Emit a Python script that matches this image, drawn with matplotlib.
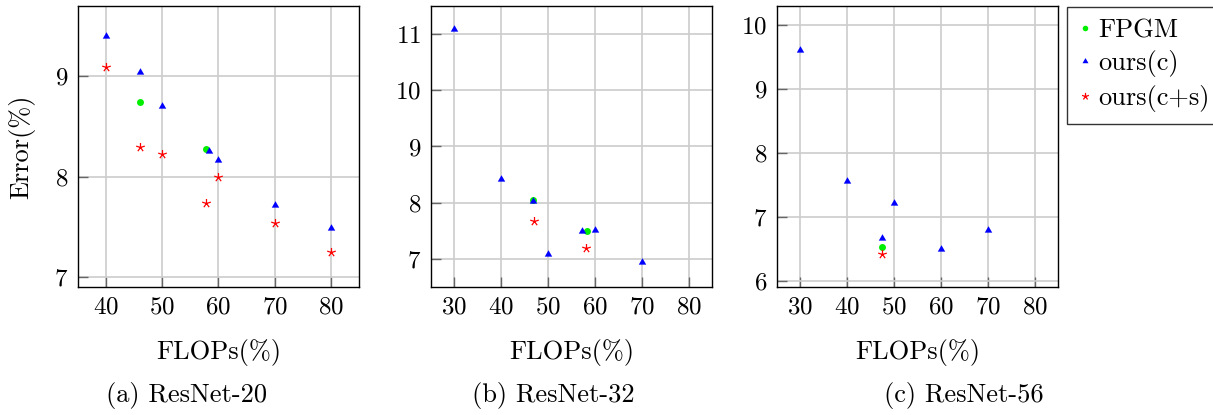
import numpy as np
import matplotlib
matplotlib.use("Agg")
import matplotlib.pyplot as plt
from matplotlib.path import Path

plt.rcParams['font.family'] = 'cmr10'
plt.rcParams['mathtext.fontset'] = 'cm'
plt.rcParams['axes.formatter.use_mathtext'] = True

# ---- data ----
a_fpgm_x = [46, 57.8]
a_fpgm_y = [8.74, 8.28]
a_c_x = [40, 46, 50, 58.3, 60, 70, 80]
a_c_y = [9.40, 9.04, 8.70, 8.26, 8.17, 7.72, 7.49]
a_cs_x = [40, 46, 50, 57.8, 60, 70, 80]
a_cs_y = [9.09, 8.30, 8.23, 7.74, 8.00, 7.54, 7.25]

b_fpgm_x = [46.7, 58.4]
b_fpgm_y = [8.04, 7.49]
b_c_x = [30, 40, 46.7, 50, 57.2, 60, 70]
b_c_y = [11.09, 8.43, 8.03, 7.08, 7.49, 7.51, 6.95]
b_cs_x = [47.0, 58.0]
b_cs_y = [7.67, 7.20]

c_fpgm_x = [47.4]
c_fpgm_y = [6.52]
c_c_x = [30, 40, 47.4, 50, 60, 70]
c_c_y = [9.61, 7.56, 6.66, 7.22, 6.49, 6.80]
c_cs_x = [47.4]
c_cs_y = [6.41]

series_labels = ["FPGM", "ours(c)", "ours(c+s)"]
captions = ["(a) ResNet-20", "(b) ResNet-32", "(c) ResNet-56"]
xlabel = "FLOPs(%)"
ylabel = "Error(%)"

a_xticks = [40, 50, 60, 70, 80]
bc_xticks = [30, 40, 50, 60, 70, 80]
a_yticks = [7, 8, 9]
b_yticks = [7, 8, 9, 10, 11]
c_yticks = [6, 7, 8, 9, 10]

# ---- markers ----
ang = np.deg2rad(90 + 72 * np.arange(5))
star_verts = []
star_codes = []
for t in ang:
    star_verts += [(0, 0), (np.cos(t), np.sin(t))]
    star_codes += [Path.MOVETO, Path.LINETO]
star_marker = Path(star_verts, star_codes)
tri_marker = Path([(0, 1), (-0.866, -0.5), (0.866, -0.5), (0, 1)],
                  [Path.MOVETO, Path.LINETO, Path.LINETO, Path.CLOSEPOLY])

W, H = 1213, 415
fig = plt.figure(figsize=(W / 100, H / 100), dpi=100)

FS = 19
TFS = 18
panels = [
    (78, 281, (35, 85), (6.9, 9.7), a_xticks, a_yticks,
     (a_fpgm_x, a_fpgm_y), (a_c_x, a_c_y), (a_cs_x, a_cs_y), 186),
    (431, 281, (25, 85), (6.5, 11.5), bc_xticks, b_yticks,
     (b_fpgm_x, b_fpgm_y), (b_c_x, b_c_y), (b_cs_x, b_cs_y), 553),
    (777, 281, (25, 85), (5.9, 10.3), bc_xticks, c_yticks,
     (c_fpgm_x, c_fpgm_y), (c_c_x, c_c_y), (c_cs_x, c_cs_y), 964),
]
top_px, bot_px = 6, 287

handles = None
for i, (left, width, xl, yl, xt, yt, fp, oc, ocs, capx) in enumerate(panels):
    ax = fig.add_axes([left / W, 1 - bot_px / H, width / W, (bot_px - top_px) / H])
    ax.set_xlim(*xl)
    ax.set_ylim(*yl)
    ax.set_xticks(xt)
    ax.set_yticks(yt)
    ax.grid(True, color='#cccccc', linewidth=1.2)
    ax.set_axisbelow(True)
    ax.tick_params(direction='in', length=7, width=1, color='#666666',
                   labelsize=TFS, pad=7, top=False, right=False)
    for s in ax.spines.values():
        s.set_linewidth(1.0)
        s.set_color('black')
    h1, = ax.plot(fp[0], fp[1], linestyle='none', marker='o', markersize=5,
                  color='#00ee00', markeredgewidth=0, zorder=3)
    h2, = ax.plot(oc[0], oc[1], linestyle='none', marker=tri_marker, markersize=6.2,
                  color='#0000ff', markeredgewidth=0, zorder=4)
    h3, = ax.plot(ocs[0], ocs[1], linestyle='none', marker=star_marker, markersize=6.5,
                  markerfacecolor='none', markeredgecolor='#ff0000',
                  markeredgewidth=0.9, zorder=5)
    handles = [h1, h2, h3]
    fig.text((left + width / 2) / W, 1 - 352 / H, xlabel, ha='center', va='center', fontsize=FS)
    fig.text(capx / W, 1 - 395 / H, captions[i], ha='center', va='center', fontsize=FS)
    if i == 0:
        fig.text(22 / W, 1 - 146.5 / H, ylabel, ha='center', va='center',
                 rotation=90, fontsize=FS)

leg = fig.legend(handles, series_labels, loc='upper left',
                 bbox_to_anchor=(1066.7 / W, 1 - 6.7 / H), bbox_transform=fig.transFigure,
                 borderaxespad=0, fontsize=FS, frameon=True, fancybox=False,
                 handlelength=0.45, handletextpad=0.3, labelspacing=0.3,
                 borderpad=0.45, markerscale=0.8)
leg.get_frame().set_edgecolor('black')
leg.get_frame().set_linewidth(1.0)

fig.savefig("out.png", dpi=100)
